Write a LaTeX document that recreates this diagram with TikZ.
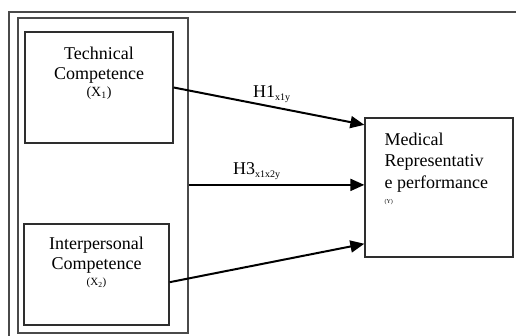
\documentclass[tikz,border=0pt]{standalone}
\usepackage{fontspec}
\setmainfont{Liberation Serif}
\usepackage{xcolor}
\usepackage{tikz}
\usetikzlibrary{positioning, arrows.meta}
\definecolor{edgegray}{HTML}{2E2E2E}
\definecolor{rulegray}{HTML}{4A4A4A}

\begin{document}
\begin{tikzpicture}[x=1pt, y=-1pt,
  varbox/.style={draw=edgegray, line width=1.3pt, inner sep=0pt},
  boxtext/.style={inner sep=0pt, align=center, font=\fontsize{18}{20}\selectfont},
  hyplabel/.style={inner sep=0pt, anchor=base west, font=\fontsize{18}{20}\selectfont},
  arrow/.style={-{Triangle[length=14pt, width=12pt]}, line width=2pt, black}
]
  \useasboundingbox (0,0) rectangle (516,336);
  % outer frame, cut off at the page edge
  \draw[rulegray, line width=1.2pt] (516,12) -| (9,336);
  \node[varbox, draw=rulegray, minimum width=170pt, minimum height=315pt] (frame) at (103,175.5) {};
  % variables
  \node[varbox, minimum width=148pt, minimum height=111pt] (tech) at (99,87.5) {};
  \node[varbox, minimum width=145pt, minimum height=101pt] (inter) at (96.5,274.5) {};
  \node[varbox, minimum width=148pt, minimum height=139pt] (perf) at (439,187.5) {};
  \node[boxtext, below=15.5pt of tech.north] (techtxt) {Technical\\Competence\\[-3pt]{\fontsize{14}{16}\selectfont (X\textsubscript{1})}};
  \node[boxtext, below=13.5pt of inter.north] (intertxt) {Interpersonal\\Competence\\[-4pt]{\fontsize{11}{12}\selectfont (X\textsubscript{2})}};
  \node[inner sep=0pt, anchor=north west, align=left, font=\fontsize{18}{21.5}\selectfont]
    (perftxt) at ([xshift=20pt, yshift=-15pt]perf.north west)
    {Medical\\Representativ\\e performance\\[-6pt]{\fontsize{6}{7}\selectfont (Y)}};
  % hypotheses
  \draw[arrow] (tech.east) -- (perf.140);
  \draw[arrow] (frame.east |- perf.178) -- (perf.178);
  \draw[arrow] (inter.-6) -- (perf.217);
  \node[hyplabel] (h1) at (253,98) {H1\raisebox{-3pt}{\fontsize{10}{10}\selectfont x1y}};
  \node[hyplabel] (h3) at (233,175) {H3\raisebox{-3pt}{\fontsize{10}{10}\selectfont x1x2y}};
\end{tikzpicture}
\end{document}
